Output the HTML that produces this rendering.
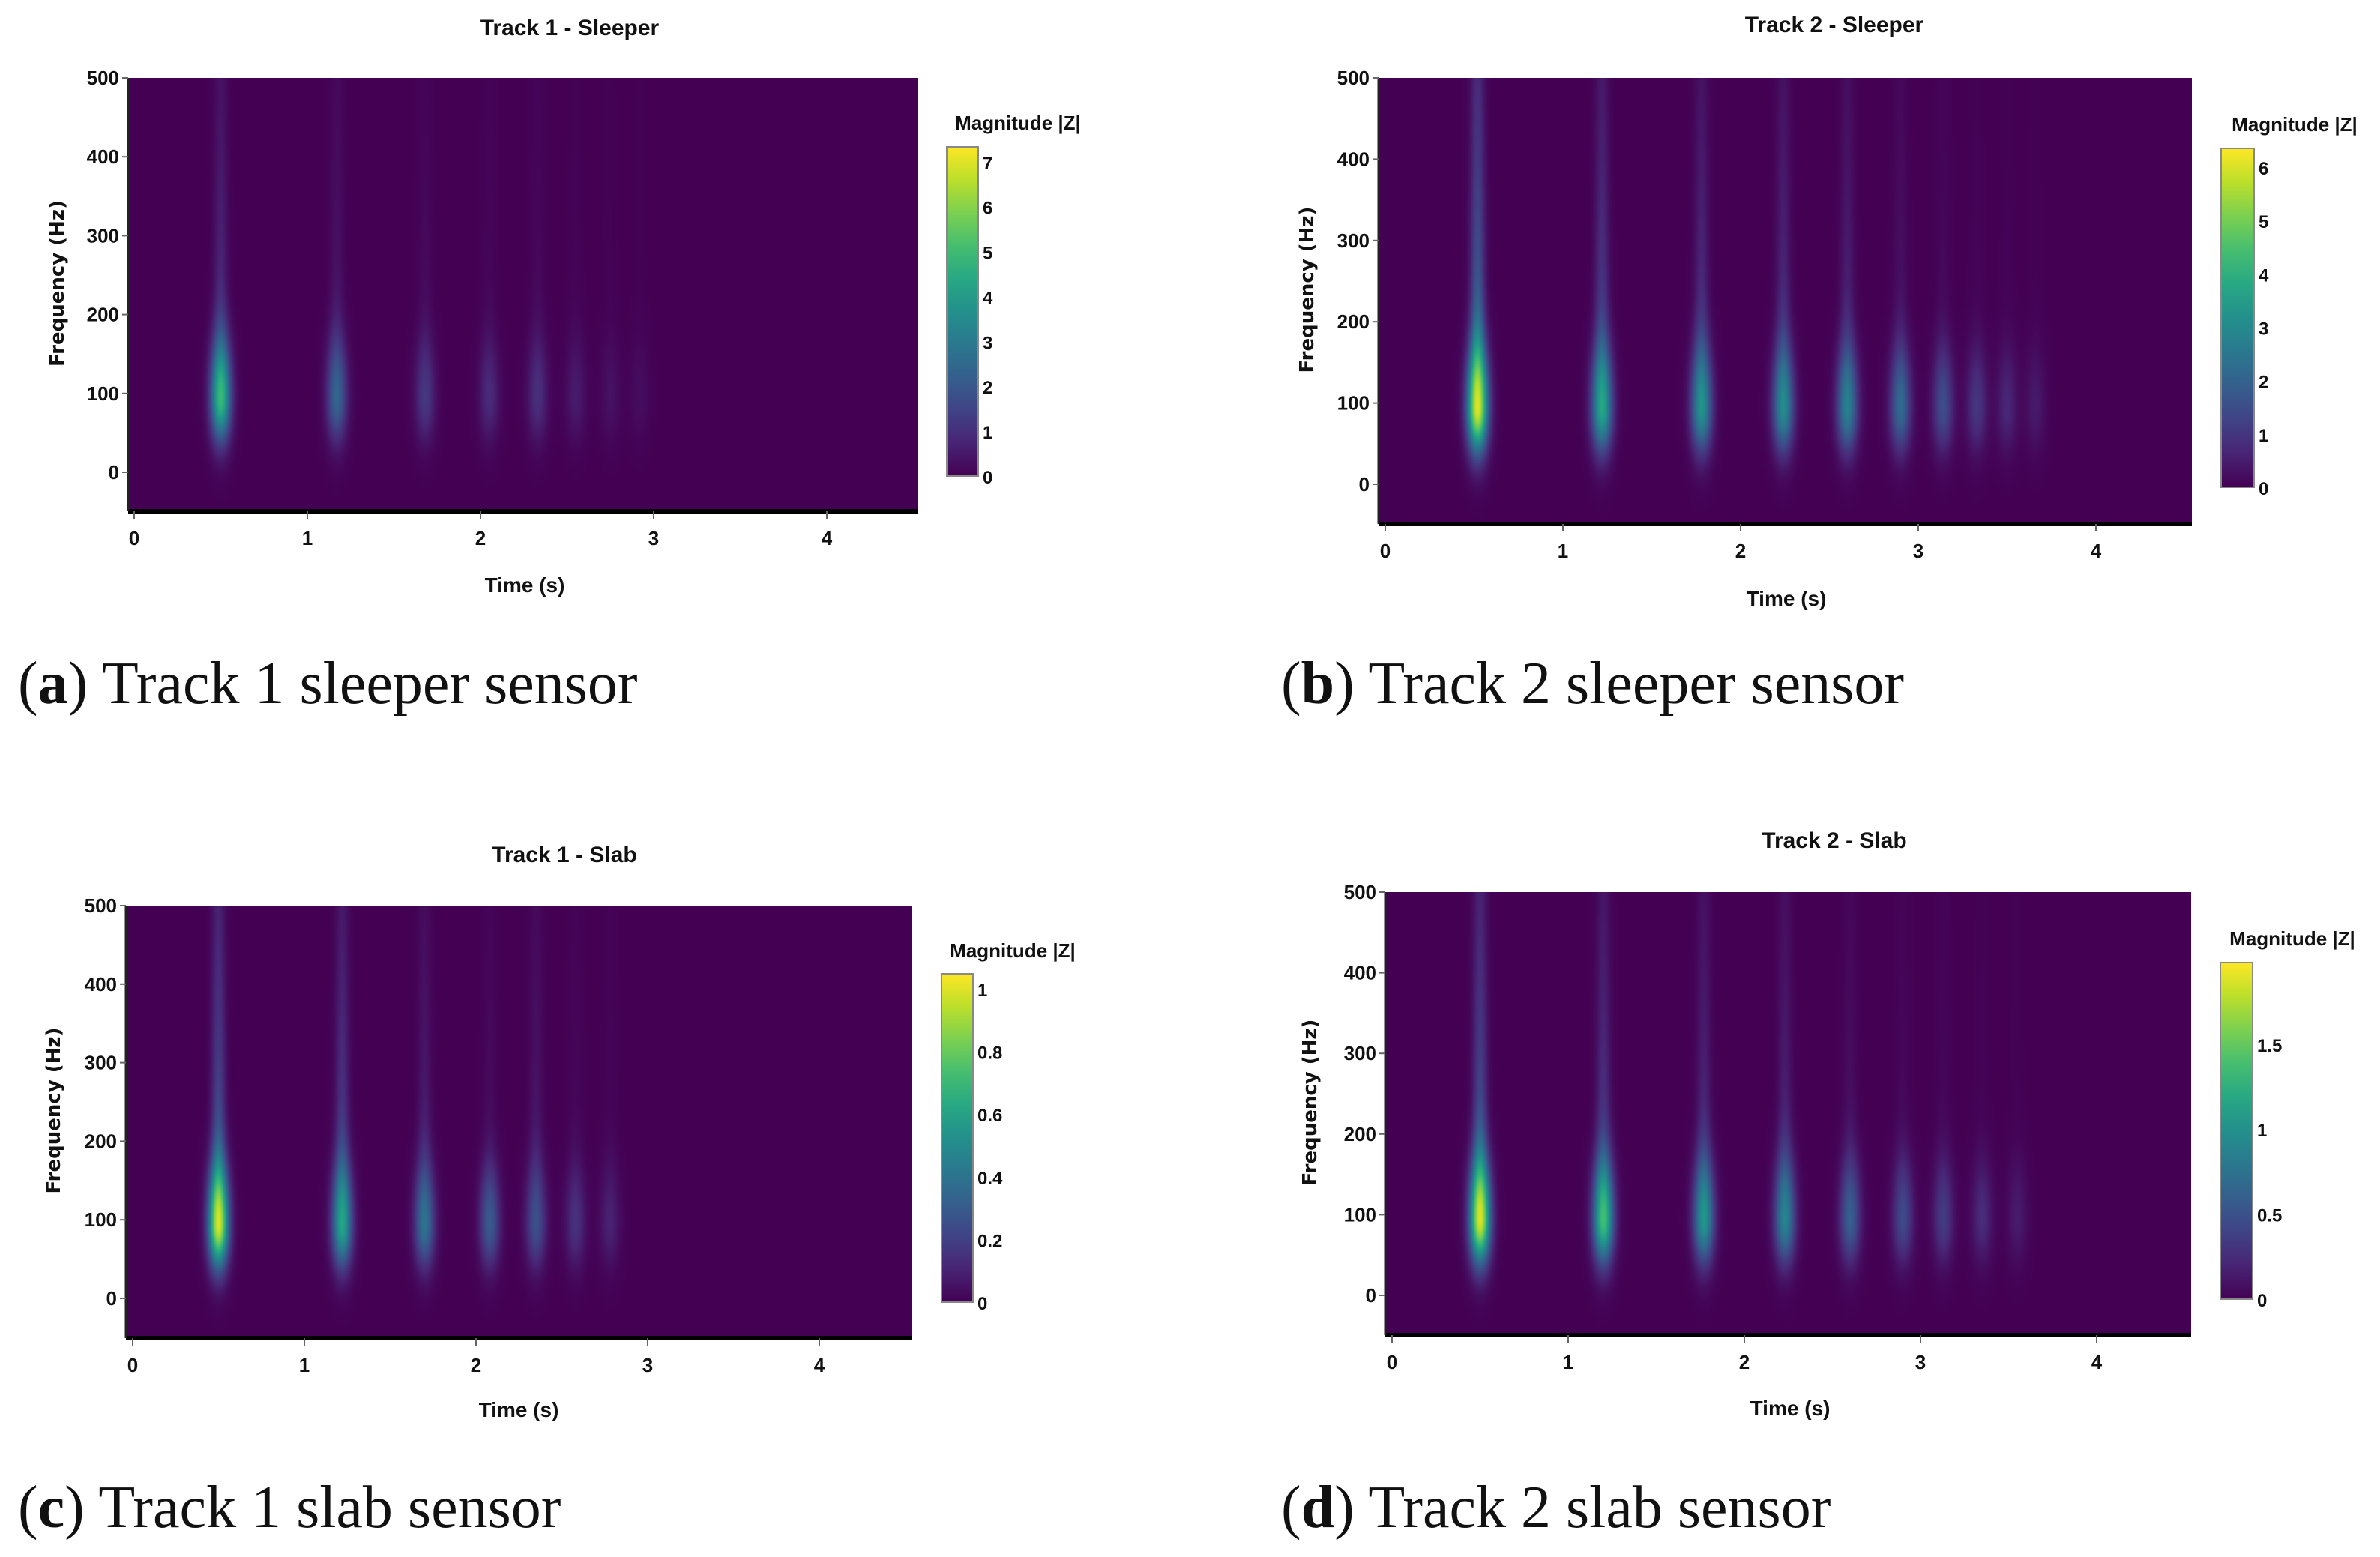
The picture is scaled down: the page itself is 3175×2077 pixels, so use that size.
<!DOCTYPE html>
<html><head><meta charset="utf-8">
<style>
html,body{margin:0;padding:0;background:#fff;}
#root{position:relative;width:3175px;height:2077px;overflow:hidden;background:#fff;}
canvas{position:absolute;}
svg{position:absolute;left:0;top:0;}
.cap{position:absolute;font-family:"Liberation Serif",serif;font-size:80px;color:#111;white-space:nowrap;line-height:1;}
</style></head>
<body>
<div id="root">
<svg id="svg" width="3175" height="2077"></svg>
<div class="cap" style="left:24px;top:872px">(<b>a</b>) Track 1 sleeper sensor</div>
<div class="cap" style="left:1709px;top:872px">(<b>b</b>) Track 2 sleeper sensor</div>
<div class="cap" style="left:24px;top:1971px">(<b>c</b>) Track 1 slab sensor</div>
<div class="cap" style="left:1709px;top:1971px">(<b>d</b>) Track 2 slab sensor</div>
</div>
<script>
// ---- data ----
const xTicks = [0,1,2,3,4];
const yTicks = [0,100,200,300,400,500];
const aPulseTimes = [0.50,1.17,1.68,2.05,2.33,2.55,2.75,2.92];
const aPulseAmps  = [5.0,2.4,1.2,0.9,1.0,0.55,0.35,0.25];
const aTails      = [0.25,0.25,0.25,0.2,0.25,0.2,0.2,0.2];
const aCbarTicks = [0,1,2,3,4,5,6,7];
const aCbarMax = 7.33;
const bPulseTimes = [0.52,1.22,1.78,2.24,2.60,2.90,3.14,3.33,3.50,3.66];
const bPulseAmps  = [6.1,3.8,3.3,3.1,2.8,2.2,1.5,1.0,0.7,0.45];
const bTails      = [0.45,0.4,0.35,0.35,0.3,0.2,0.15,0.1,0.1,0.1];
const bCbarTicks = [0,1,2,3,4,5,6];
const bCbarMax = 6.35;
const cPulseTimes = [0.50,1.22,1.70,2.08,2.35,2.58,2.78];
const cPulseAmps  = [1.0,0.62,0.4,0.3,0.26,0.15,0.1];
const cTails      = [0.35,0.4,0.3,0.15,0.35,0.2,0.2];
const cCbarTicks = [0,0.2,0.4,0.6,0.8,1];
const cCbarMax = 1.048;
const dPulseTimes = [0.50,1.20,1.77,2.23,2.60,2.90,3.13,3.35,3.55];
const dPulseAmps  = [1.9,1.4,1.05,0.9,0.6,0.45,0.35,0.25,0.15];
const dTails      = [0.35,0.3,0.3,0.3,0.2,0.15,0.15,0.1,0.1];
const dCbarTicks = [0,0.5,1,1.5];
const dCbarMax = 1.98;
const titles = ["Track 1 - Sleeper","Track 2 - Sleeper","Track 1 - Slab","Track 2 - Slab"];

// ---- layout ----
const panels = [
 {id:'a',times:aPulseTimes,amps:aPulseAmps,tails:aTails,cbt:aCbarTicks,cmax:aCbarMax,title:titles[0],
  L:171,R:1224,T:104,B:682,x0:179,xs:231,y0:630,ys:1.052,cb:[1263,196,42,439],tt:[760,37],mg:[1358,164],tm:[700,780],yl:85},
 {id:'b',times:bPulseTimes,amps:bPulseAmps,tails:bTails,cbt:bCbarTicks,cmax:bCbarMax,title:titles[1],
  L:1839,R:2924,T:104,B:699,x0:1848,xs:237,y0:646,ys:1.084,cb:[2963,198,44,452],tt:[2447,33],mg:[3061,166],tm:[2383,798],yl:1752},
 {id:'c',times:cPulseTimes,amps:cPulseAmps,tails:cTails,cbt:cCbarTicks,cmax:cCbarMax,title:titles[2],
  L:168,R:1217,T:1208,B:1785,x0:177,xs:229,y0:1732,ys:1.048,cb:[1256,1299,42,438],tt:[753,1140],mg:[1351,1268],tm:[692,1880],yl:80},
 {id:'d',times:dPulseTimes,amps:dPulseAmps,tails:dTails,cbt:dCbarTicks,cmax:dCbarMax,title:titles[3],
  L:1848,R:2923,T:1190,B:1781,x0:1857,xs:235,y0:1728,ys:1.076,cb:[2962,1284,43,449],tt:[2447,1121],mg:[3058,1252],tm:[2388,1878],yl:1756}
];

const VS=[[68,1,84],[72,40,120],[62,74,137],[49,104,142],[38,130,142],[31,158,137],[53,183,121],[109,205,89],[180,222,44],[253,231,37]];
function viridis(v){v=Math.max(0,Math.min(1,v));const p=v*(VS.length-1);const i=Math.min(VS.length-2,Math.floor(p));const f=p-i;
 return VS[i].map((c,k)=>Math.round(c+(VS[i+1][k]-c)*f));}

const NS='http://www.w3.org/2000/svg';
const svg=document.getElementById('svg');
const root=document.getElementById('root');
function mk(tag,attrs,parent){const e=document.createElementNS(NS,tag);for(const k in attrs)e.setAttribute(k,attrs[k]);(parent||svg).appendChild(e);return e;}
const FONT='"Liberation Sans", Arial, sans-serif';

panels.forEach(p=>{
 const xS=t=>p.x0+t*p.xs;
 const yS=f=>p.y0-f*p.ys;
 const tMin=(p.L-p.x0)/p.xs, tMax=(p.R-p.x0)/p.xs;
 const fMax=(p.y0-p.T)/p.ys, fMin=(p.y0-p.B)/p.ys;
 const NC=360, NR=140;
 const off=document.createElement('canvas');off.width=NC;off.height=NR;
 const oc=off.getContext('2d');const img=oc.createImageData(NC,NR);
 for(let r=0;r<NR;r++){const f=fMax-(r+0.5)/NR*(fMax-fMin);
  for(let c=0;c<NC;c++){const t=tMin+(c+0.5)/NC*(tMax-tMin);let v=0;
   for(let k=0;k<p.times.length;k++){const dt=t-p.times[k];if(Math.abs(dt)>0.25)continue;
    const gt=Math.exp(-dt*dt/(2*0.04*0.04));
    const sf=f<95?38:50;const main=Math.exp(-Math.pow((f-95)/sf,2)/2);
    let tail=0;
    if(f>95)tail=p.tails[k]*Math.exp(-(f-95)/320)*Math.exp(-dt*dt/(2*0.028*0.028));
    v+=p.amps[k]*(gt*main+tail*(1-Math.exp(-Math.pow((f-95)/60,2))));}
   const col=viridis(v/p.cmax);const i=(r*NC+c)*4;img.data[i]=col[0];img.data[i+1]=col[1];img.data[i+2]=col[2];img.data[i+3]=255;}}
 oc.putImageData(img,0,0);
 const cv=document.createElement('canvas');
 
 
 cv.width=p.R-p.L;cv.height=p.B-p.T;cv.style.left=p.L+'px';cv.style.top=p.T+'px';
 const cx=cv.getContext('2d');cx.imageSmoothingEnabled=true;cx.imageSmoothingQuality='high';cx.drawImage(off,0,0,cv.width,cv.height);
 root.insertBefore(cv,svg);
 const g=mk('g',{});
 
 
 const xa=mk('line',{x1:p.L,x2:p.R,y1:p.B,y2:p.B,stroke:'#000','stroke-width':6},g);
 
 
 const ya=mk('line',{x1:p.L,x2:p.L,y1:p.T,y2:p.B,stroke:'#222','stroke-width':3},g);
 
 
 xTicks.forEach(t=>{const x=xS(t);
  mk('line',{x1:x,x2:x,y1:p.B,y2:p.B+10,stroke:'#666','stroke-width':2},g);
  const tx=mk('text',{x:x,y:p.B+45,'text-anchor':'middle','font-family':FONT,'font-weight':'bold','font-size':26,fill:'#111'},g);tx.textContent=t;
  
  });
 yTicks.forEach(f=>{const y=yS(f);
  mk('line',{x1:p.L-8,x2:p.L,y1:y,y2:y,stroke:'#666','stroke-width':2},g);
  const tx=mk('text',{x:p.L-12,y:y+9,'text-anchor':'end','font-family':FONT,'font-weight':'bold','font-size':26,fill:'#111'},g);tx.textContent=f;
  
  });
 const ti=mk('text',{x:p.tt[0],y:p.tt[1]+10,'text-anchor':'middle','font-family':FONT,'font-weight':'bold','font-size':30,fill:'#111'},g);ti.textContent=p.title;
 
 
 const xt=mk('text',{x:p.tm[0],y:p.tm[1]+10,'text-anchor':'middle','font-family':FONT,'font-weight':'bold','font-size':28,fill:'#111'},g);xt.textContent='Time (s)';
 
 
 const ymid=(p.T+p.B)/2-15;
 const yt=mk('text',{x:p.yl,y:ymid,'text-anchor':'middle','font-family':'"DejaVu Sans", sans-serif','font-weight':'bold','font-size':26,fill:'#111',transform:`rotate(-90 ${p.yl} ${ymid})`},g);yt.textContent='Frequency (Hz)';
 
 
 const [cx0,cy0,cw,ch]=p.cb;
 const gid='grad'+p.id;const lg=mk('linearGradient',{id:gid,x1:0,y1:1,x2:0,y2:0},g);
 for(let i=0;i<=10;i++){const c=viridis(i/10);mk('stop',{offset:i/10,'stop-color':`rgb(${c})`},lg);}
 const cr=mk('rect',{x:cx0,y:cy0,width:cw,height:ch,fill:`url(#${gid})`,stroke:'#888','stroke-width':2},g);
 
 
 p.cbt.forEach(v=>{const y=cy0+ch-(v/p.cmax)*ch;
  const tx=mk('text',{x:cx0+cw+6,y:y+10,'font-family':FONT,'font-weight':'bold','font-size':24,fill:'#111'},g);tx.textContent=v;
  
  });
 const mg=mk('text',{x:p.mg[0],y:p.mg[1]+9,'text-anchor':'middle','font-family':FONT,'font-weight':'bold','font-size':26,fill:'#111'},g);mg.textContent='Magnitude |Z|';
 
 
});
</script>
</body></html>
